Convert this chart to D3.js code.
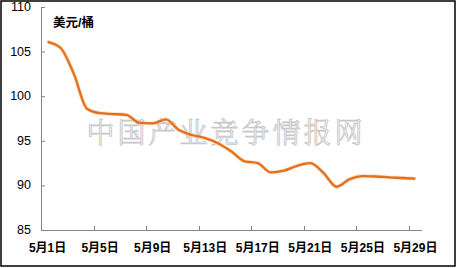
<!DOCTYPE html>
<html>
<head>
<meta charset="utf-8">
<script src="https://cdn.jsdelivr.net/npm/d3@7"></script>
<style>
  body { margin: 0; background: #fff; }
  svg { display: block; }
</style>
</head>
<body>
<svg id="chart" width="457" height="268"></svg>
<script>
// days of May, one point per day
var days = d3.range(1, 30)
var prices = [106.1, 105.4, 102.5, 98.6, 98.1, 98.0, 97.9, 97.0, 96.95, 97.4,
              96.2, 95.65, 95.3, 94.7, 93.8, 92.7, 92.5, 91.45, 91.65, 92.2,
              92.5, 91.4, 89.85, 90.7, 91.05, 91.0, 90.9, 90.83, 90.75]
var yTicks = [85, 90, 95, 100, 105, 110]
var labelDays = [1, 5, 9, 13, 17, 21, 25, 29]
var unit = "美元/桶"
var watermark = "中国产业竞争情报网"

var svg = d3.select("#chart")
var margin = {top: 7, right: 35, bottom: 38, left: 41}
var width = 457, height = 268

var font = "'Liberation Sans', Arial, 'Noto Sans CJK SC', sans-serif"

// outer frame
svg.append("rect")
  .attr("x", 1).attr("y", 1)
  .attr("width", 454).attr("height", 265)
  .attr("fill", "#fff")
  .attr("stroke", "#000")
  .attr("stroke-width", 1.5)

var x = d3.scaleBand()
  .domain(days)
  .range([margin.left, width - margin.right])

var y = d3.scaleLinear()
  .domain([85, 110])
  .range([height - margin.bottom, margin.top])

// watermark
svg.append("text")
  .attr("x", 226)
  .attr("y", 131)
  .attr("text-anchor", "middle")
  .attr("dominant-baseline", "central")
  .attr("font-family", "'Noto Serif CJK SC', 'Noto Sans CJK SC', serif")
  .attr("font-size", 28)
  .attr("letter-spacing", 3)
  .attr("fill", "#f0f0f0")
  .attr("stroke", "#c8c8c8")
  .attr("stroke-width", 0.8)
  .text(watermark)

// y axis
var yAxis = svg.append("g")
  .attr("transform", `translate(${margin.left},0)`)
  .call(d3.axisRight(y).tickValues(yTicks).tickSize(4).tickFormat(""))
yAxis.select(".domain").attr("stroke", "#868686").attr("d", `M0.5,${y(110)}V${y(85)}`)
yAxis.selectAll(".tick line").attr("stroke", "#868686")

svg.append("g").selectAll("text")
  .data(yTicks)
  .join("text")
  .attr("x", 31)
  .attr("y", d => y(d))
  .attr("text-anchor", "end")
  .attr("dominant-baseline", "central")
  .attr("font-family", font)
  .attr("font-size", 12.5)
  .attr("fill", "#000")
  .text(d => d)

// x axis: ticks on category boundaries every 4 days
var boundaryDays = labelDays.slice(0, -1)
var xg = svg.append("g")
  .attr("transform", `translate(0,${y(85)})`)
xg.append("line")
  .attr("x1", margin.left).attr("x2", width - margin.right)
  .attr("y1", 0.5).attr("y2", 0.5)
  .attr("stroke", "#868686")
xg.selectAll(".tk")
  .data(boundaryDays)
  .join("line")
  .attr("class", "tk")
  .attr("x1", d => Math.round(x(d + 3) + x.bandwidth()) + 0.5)
  .attr("x2", d => Math.round(x(d + 3) + x.bandwidth()) + 0.5)
  .attr("y1", 0).attr("y2", -4)
  .attr("stroke", "#868686")

svg.append("g").selectAll("text")
  .data(labelDays)
  .join("text")
  .attr("x", d => x(d) + x.bandwidth() / 2)
  .attr("y", 248)
  .attr("text-anchor", "middle")
  .attr("dominant-baseline", "central")
  .attr("font-family", font)
  .attr("font-size", 12)
  .attr("font-weight", "bold")
  .text(d => "5月" + d + "日")

// unit label
svg.append("text")
  .attr("x", 53)
  .attr("y", 23)
  .attr("dominant-baseline", "central")
  .attr("font-family", font)
  .attr("font-size", 12.5)
  .attr("font-weight", "bold")
  .text(unit)

// price line
var line = d3.line()
  .x((d, i) => x(days[i]) + x.bandwidth() / 2)
  .y(d => y(d))
  .curve(d3.curveMonotoneX)

svg.append("path")
  .datum(prices)
  .attr("fill", "none")
  .attr("stroke", "#f6c9a0")
  .attr("stroke-width", 4)
  .attr("stroke-opacity", 0.6)
  .attr("d", line)

svg.append("path")
  .datum(prices)
  .attr("fill", "none")
  .attr("stroke", "#E4701C")
  .attr("stroke-width", 2.3)
  .attr("stroke-linejoin", "round")
  .attr("d", line)
</script>
</body>
</html>
